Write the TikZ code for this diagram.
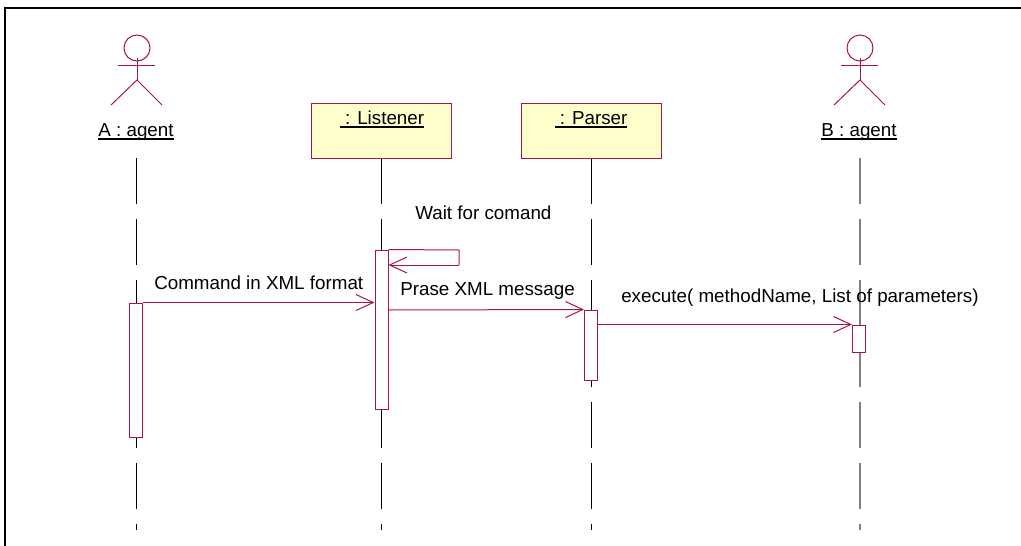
\documentclass[tikz,border=0pt]{standalone}
\usepackage{fontspec}
\setmainfont{Liberation Sans}
\usetikzlibrary{arrows.meta}
\definecolor{umlred}{RGB}{170,20,70}
\definecolor{umlyellow}{RGB}{255,255,204}
\tikzset{
  objbox/.style={draw=umlred,fill=umlyellow,line width=.75pt,minimum width=105pt,minimum height=41.25pt,inner sep=0pt},
  activation/.style={draw=umlred,fill=white,line width=.75pt,minimum width=9.75pt,inner sep=0pt},
  lifeline/.style={black,line width=.75pt,dash pattern=on 34.5pt off 11.25pt},
  message/.style={umlred,line width=.75pt,-{Straight Barb[length=13pt,width=12pt,line width=.75pt]}},
  stick/.style={umlred,line width=.75pt},
  txt/.style={inner sep=0pt,font=\fontsize{14.1pt}{16pt}\selectfont},
  objname/.style={txt,anchor=base}
}
\newcommand{\ul}[1]{\setbox0=\hbox{#1}\rlap{\copy0}\rule[-2.7pt]{\wd0}{1.2pt}}
\begin{document}
\begin{tikzpicture}[x=.75pt,y=-.75pt]
  \useasboundingbox (0,0) rectangle (1021,546);
  % frame
  \draw[line width=1.5pt] (5,546) -- (5,8) -- (1021,8);
  % lifelines
  \coordinate (atop) at (136,158);
  \coordinate (abot) at (136,530);
  \coordinate (ltop) at (381,158);
  \coordinate (lbot) at (381,530);
  \coordinate (ptop) at (591,158);
  \coordinate (pbot) at (591,530);
  \coordinate (btop) at (860,158);
  \coordinate (bbot) at (860,530);
  \draw[lifeline] (atop) -- (abot);
  \draw[lifeline] (ltop) -- (lbot);
  \draw[lifeline] (ptop) -- (pbot);
  \draw[lifeline,gray,line width=1.2pt] (btop) -- (bbot);
  % actors
  \foreach \n/\x in {a/137,b/860}{
    \node[stick,draw,circle,minimum size=19.5pt,inner sep=0pt] (head\n) at (\x,48) {};
    \draw[stick] (\x-19,65) -- (\x+18,65);
    \draw[stick] (\x,58) -- (\x,80);
    \draw[stick] (\x-26,105) -- (\x,80) -- (\x+25,105);
  }
  \node[objname] (aname) at (136,136) {\ul{A : agent}};
  \node[objname] (bname) at (859,136) {\ul{B : agent}};
  % objects
  \node[objbox] (listener) at (381,130.5) {};
  \node[objbox] (parser) at (591,130.5) {};
  \node[objname] (lname) at (382,124) {\ul{\ : Listener}};
  \node[objname] (pname) at (591,124) {\ul{\ : Parser}};
  % activations
  \node[activation,minimum height=100.5pt] (acta) at (136,370) {};
  \node[activation,minimum height=119.25pt] (actl) at (381.5,329.5) {};
  \node[activation,minimum height=52.5pt] (actp) at (591,345) {};
  \node[activation,minimum height=20.25pt] (actb) at (859,338.5) {};
  % messages
  \coordinate (selfa) at (459,250);
  \coordinate (selfb) at (459,265);
  \coordinate (backl) at (388.5,265);
  \coordinate (outl) at (388,310);
  \coordinate (outp) at (597,324.5);
  \draw[stick] (actl.north east) -- (selfa) -- (selfb);
  \draw[message] (selfb) -- (backl);
  \draw[message] (acta.north east) -- (acta.north east -| actl.west);
  \draw[message] (outl) -- (actp.north west);
  \draw[message] (outp) -- (actb.north west);
  % labels
  \node[txt,anchor=base west] (wait) at (415,219) {Wait for comand};
  \node[txt,anchor=base west] (cmd) at (154,289) {Command in XML format};
  \node[txt,anchor=base west] (prase) at (400,295) {Prase XML message};
  \node[txt,anchor=base west] (exec) at (621,302) {execute( methodName, List of parameters)};
\end{tikzpicture}
\end{document}
